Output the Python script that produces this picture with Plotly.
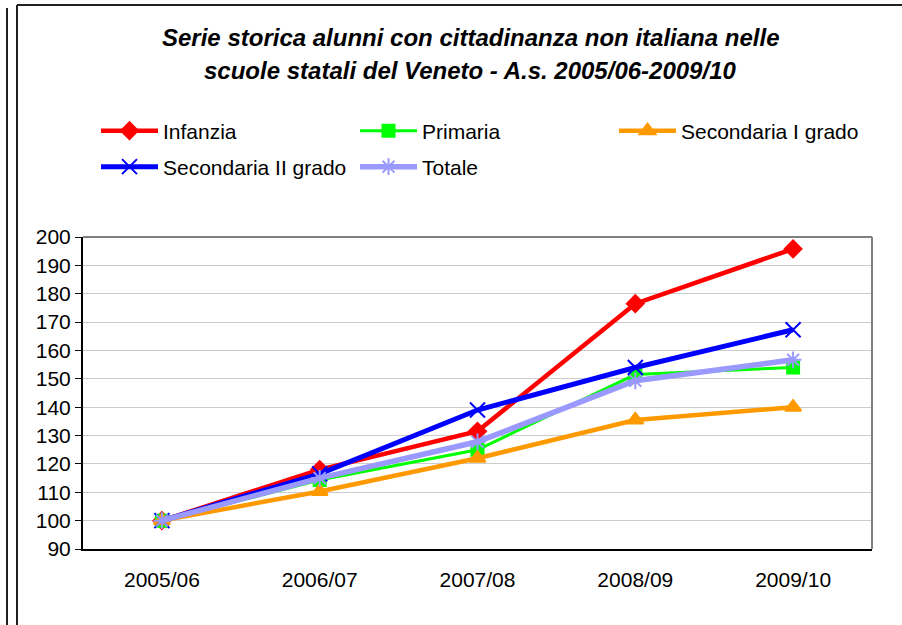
import plotly.graph_objects as go

categories = ["2005/06", "2006/07", "2007/08", "2008/09", "2009/10"]
infanzia = [100, 118.0, 131.5, 176.5, 195.8]
primaria = [100, 114.3, 125.0, 151.5, 154.0]
sec1 = [100, 110.3, 122.0, 135.5, 140.0]
sec2 = [100, 116.5, 139.0, 154.0, 167.3]
totale = [100, 115.0, 127.8, 149.3, 156.7]
y_ticks = list(range(90, 201, 10))

title_lines = ["Serie storica alunni con cittadinanza non italiana nelle",
               "scuole statali del Veneto - A.s. 2005/06-2009/10"]

series = [
    ("Infanzia", infanzia, "#FF0000", "diamond", 13, 4.5, "legend"),
    ("Primaria", primaria, "#00FF00", "square", 12, 3, "legend"),
    ("Secondaria I grado", sec1, "#FF9900", "triangle-up", 14, 4.5, "legend"),
    ("Secondaria II grado", sec2, "#0000FF", "x-thin-open", 15, 5, "legend2"),
    ("Totale", totale, "#9999FF", "asterisk-open", 14, 5.5, "legend2"),
]

fig = go.Figure()
for name, vals, col, sym, sz, lw, lg in series:
    fig.add_trace(go.Scatter(
        x=categories, y=vals, name=name, mode="lines+markers",
        line=dict(color=col, width=lw),
        marker=dict(symbol=sym, size=sz, color=col,
                    line=dict(color=col, width=2)),
        legend=lg,
    ))

FONT = "Liberation Sans, Arial, sans-serif"
W, H = 902, 625
L, R, T, B = 83, 30, 237, 76
pw, ph = W - L - R, H - T - B

def px(x):
    return (x - L) / pw

def py(y):
    return (H - B - y) / ph

legend_common = dict(
    orientation="h", xanchor="left", yanchor="middle",
    entrywidth=187, entrywidthmode="pixels", itemwidth=57,
    font=dict(size=21, family=FONT), bgcolor="rgba(0,0,0,0)",
    traceorder="normal", itemclick=False, itemdoubleclick=False,
)

fig.update_layout(
    width=W, height=H,
    margin=dict(l=L, r=R, t=T, b=B),
    paper_bgcolor="white", plot_bgcolor="white",
    font=dict(family=FONT, size=21, color="black"),
    showlegend=True,
    legend=dict(x=px(96), y=py(131), **legend_common),
    legend2=dict(x=px(96), y=py(167), **legend_common),
    xaxis=dict(
        type="category", range=[-0.5, 4.5], showgrid=False,
        showline=True, linecolor="black", linewidth=2, mirror=False,
        ticks="", ticklabelstandoff=11, tickfont=dict(size=21),
        fixedrange=True,
    ),
    yaxis=dict(
        range=[90, 200], tickvals=y_ticks, showgrid=True,
        gridcolor="#CCCCCC", gridwidth=1,
        showline=True, linecolor="black", linewidth=2,
        ticks="outside", ticklen=6, tickcolor="black", tickwidth=1,
        tickfont=dict(size=21), zeroline=False, fixedrange=True,
    ),
)

# plot-area top/right border (gray)
fig.add_shape(type="line", xref="paper", yref="paper", x0=0, x1=1, y0=1, y1=1,
              line=dict(color="#808080", width=2))
fig.add_shape(type="line", xref="paper", yref="paper", x0=1, x1=1, y0=0, y1=1,
              line=dict(color="#808080", width=2))

# outer chart frame
fig.add_shape(type="line", xref="paper", yref="paper", x0=px(17), x1=px(17),
              y0=py(5), y1=py(630), line=dict(color="#202020", width=2))
fig.add_shape(type="line", xref="paper", yref="paper", x0=px(17), x1=px(905),
              y0=py(5), y1=py(5), line=dict(color="#202020", width=2))
fig.add_shape(type="line", xref="paper", yref="paper", x0=px(7), x1=px(7),
              y0=py(8), y1=py(630), line=dict(color="#202020", width=2))

for line, ypos in zip(title_lines, [37, 71]):
    fig.add_annotation(
        text="<b><i>" + line + "</i></b>", xref="paper", yref="paper",
        x=px(470), y=py(ypos), xanchor="center", yanchor="middle",
        showarrow=False, font=dict(size=24, family=FONT, color="black"),
    )

fig.write_html("out.html", config={"displayModeBar": False},
               post_script="document.body.style.margin='0';document.body.style.overflow='hidden';")
